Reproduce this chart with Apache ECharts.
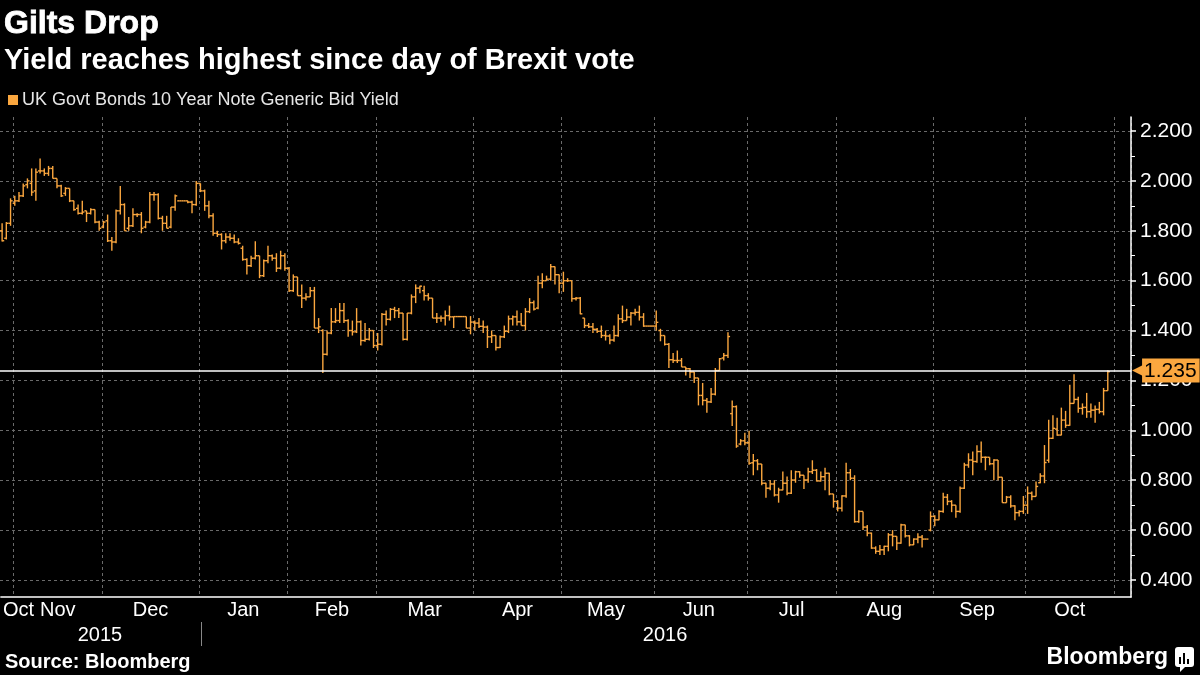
<!DOCTYPE html>
<html>
<head>
<meta charset="utf-8">
<script src="https://cdn.jsdelivr.net/npm/echarts@6/dist/echarts.min.js"></script>
<style>
html,body{margin:0;padding:0;background:#000;}
#chart{width:1200px;height:675px;}
</style>
</head>
<body>
<div id="chart"></div>
<script>
// ---------------- DATA ----------------
const seriesName = 'UK Govt Bonds 10 Year Note Generic Bid Yield';
const firstDay = '2015-10-28';     // first weekday shown on the axis
const axisSlots = 268;             // weekdays on the axis (data + empty room at the end)
const monthNames = ['Jan','Feb','Mar','Apr','May','Jun','Jul','Aug','Sep','Oct','Nov','Dec'];

const open = [
1.80,1.77,1.83,1.91,1.92,1.94,1.985,1.99,1.96,2.04,
2.04,2.03,2.05,2.01,1.98,1.95,1.97,1.92,1.89,1.87,
1.88,1.87,1.885,1.835,1.815,1.84,1.76,1.755,1.88,1.905,
1.81,1.82,1.865,1.865,1.815,1.835,1.945,1.945,1.85,1.83,
1.815,1.895,1.92,1.92,1.92,1.915,1.905,1.99,1.96,1.90,
1.86,1.79,1.785,1.76,1.775,1.77,1.755,1.73,1.685,1.66,
1.69,1.70,1.62,1.68,1.70,1.69,1.65,1.70,1.65,1.56,
1.615,1.54,1.53,1.535,1.56,1.41,1.40,1.305,1.39,1.435,
1.44,1.48,1.44,1.40,1.395,1.435,1.36,1.365,1.40,1.34,
1.345,1.465,1.445,1.485,1.48,1.47,1.365,1.47,1.535,1.57,
1.56,1.54,1.53,1.45,1.45,1.45,1.46,1.455,1.456,1.456,
1.456,1.41,1.434,1.43,1.417,1.414,1.375,1.38,1.332,1.375,
1.397,1.447,1.455,1.435,1.42,1.476,1.512,1.49,1.59,1.60,
1.606,1.656,1.624,1.59,1.60,1.60,1.528,1.53,1.45,1.42,
1.415,1.405,1.397,1.38,1.378,1.362,1.38,1.447,1.44,1.454,
1.47,1.473,1.454,1.418,1.418,1.418,1.40,1.38,1.345,1.283,
1.28,1.28,1.254,1.247,1.234,1.21,1.14,1.12,1.114,1.145,
1.24,1.29,1.30,1.067,1.095,0.945,0.958,0.95,0.87,0.878,
0.865,0.788,0.768,0.785,0.741,0.761,0.788,0.748,0.801,0.834,
0.82,0.801,0.834,0.84,0.797,0.814,0.828,0.745,0.715,0.688,
0.737,0.83,0.808,0.634,0.675,0.612,0.588,0.528,0.515,0.521,
0.535,0.581,0.575,0.548,0.621,0.577,0.541,0.564,0.572,0.564,
0.60,0.655,0.641,0.675,0.732,0.715,0.70,0.675,0.768,0.861,
0.881,0.875,0.915,0.892,0.892,0.866,0.881,0.812,0.71,0.732,
0.697,0.67,0.675,0.70,0.748,0.735,0.79,0.817,0.88,0.968,
1.005,0.981,1.041,1.02,1.108,1.124,1.088,1.092,1.075,1.081,
1.084,1.075,1.159
];
const high = [
1.83,1.835,1.93,1.94,1.955,1.99,2.01,2.05,2.05,2.09,
2.05,2.06,2.06,2.01,1.985,1.975,1.97,1.92,1.905,1.92,
1.88,1.89,1.885,1.84,1.84,1.865,1.775,1.885,1.98,1.91,
1.855,1.89,1.87,1.875,1.84,1.955,1.955,1.95,1.86,1.86,
1.895,1.945,1.92,1.92,1.92,1.92,2.00,1.99,1.965,1.92,
1.87,1.80,1.79,1.79,1.79,1.785,1.77,1.74,1.69,1.70,
1.758,1.70,1.685,1.74,1.705,1.71,1.72,1.71,1.655,1.625,
1.615,1.585,1.55,1.575,1.575,1.45,1.405,1.40,1.49,1.49,
1.51,1.51,1.445,1.44,1.49,1.44,1.43,1.41,1.40,1.39,
1.47,1.48,1.49,1.495,1.49,1.47,1.47,1.545,1.585,1.58,
1.58,1.55,1.53,1.47,1.46,1.48,1.50,1.456,1.456,1.456,
1.456,1.458,1.44,1.45,1.44,1.42,1.40,1.38,1.38,1.42,
1.46,1.46,1.48,1.47,1.49,1.53,1.52,1.62,1.63,1.62,
1.667,1.657,1.625,1.636,1.61,1.60,1.535,1.535,1.45,1.43,
1.43,1.41,1.42,1.40,1.385,1.42,1.465,1.50,1.487,1.474,
1.487,1.50,1.47,1.418,1.418,1.48,1.407,1.38,1.35,1.31,
1.32,1.29,1.254,1.25,1.234,1.21,1.19,1.13,1.17,1.25,
1.29,1.31,1.393,1.12,1.10,0.965,0.99,0.998,0.905,0.885,
0.865,0.79,0.80,0.80,0.77,0.835,0.815,0.84,0.838,0.836,
0.82,0.85,0.88,0.845,0.835,0.85,0.83,0.745,0.72,0.74,
0.87,0.845,0.82,0.68,0.675,0.62,0.59,0.535,0.54,0.537,
0.588,0.60,0.575,0.626,0.621,0.58,0.567,0.587,0.58,0.564,
0.675,0.66,0.68,0.75,0.745,0.72,0.70,0.775,0.87,0.908,
0.915,0.94,0.955,0.895,0.892,0.884,0.881,0.812,0.737,0.74,
0.70,0.68,0.737,0.775,0.755,0.795,0.828,0.941,1.042,1.06,
1.05,1.091,1.078,1.183,1.225,1.135,1.108,1.15,1.108,1.10,
1.114,1.17,1.241
];
const low = [
1.757,1.765,1.82,1.90,1.915,1.935,1.97,1.94,1.92,2.03,
2.02,2.02,2.01,1.97,1.935,1.94,1.915,1.88,1.865,1.865,
1.835,1.865,1.83,1.80,1.81,1.755,1.72,1.75,1.865,1.80,
1.80,1.815,1.855,1.79,1.81,1.83,1.92,1.845,1.80,1.81,
1.81,1.88,1.92,1.92,1.91,1.87,1.90,1.955,1.88,1.85,
1.78,1.775,1.725,1.75,1.76,1.75,1.745,1.68,1.625,1.655,
1.685,1.61,1.615,1.67,1.68,1.635,1.645,1.64,1.555,1.555,
1.54,1.49,1.52,1.535,1.41,1.39,1.23,1.30,1.385,1.43,
1.43,1.43,1.375,1.38,1.39,1.34,1.355,1.36,1.33,1.32,
1.34,1.42,1.44,1.45,1.45,1.36,1.36,1.465,1.51,1.55,
1.52,1.52,1.45,1.43,1.435,1.42,1.44,1.41,1.456,1.456,
1.41,1.385,1.40,1.41,1.39,1.33,1.35,1.32,1.33,1.37,
1.39,1.42,1.42,1.42,1.40,1.47,1.48,1.485,1.57,1.60,
1.60,1.585,1.55,1.555,1.595,1.515,1.52,1.465,1.41,1.41,
1.39,1.39,1.37,1.36,1.345,1.355,1.375,1.43,1.44,1.42,
1.46,1.44,1.415,1.418,1.418,1.40,1.357,1.34,1.25,1.27,
1.27,1.254,1.22,1.21,1.19,1.10,1.10,1.07,1.11,1.14,
1.24,1.28,1.29,1.017,0.93,0.94,0.94,0.862,0.82,0.84,
0.78,0.73,0.76,0.735,0.71,0.76,0.74,0.745,0.79,0.81,
0.765,0.79,0.825,0.795,0.795,0.76,0.74,0.69,0.675,0.675,
0.73,0.80,0.63,0.63,0.60,0.575,0.525,0.505,0.50,0.50,
0.515,0.535,0.52,0.545,0.57,0.535,0.54,0.547,0.53,0.564,
0.595,0.615,0.64,0.67,0.70,0.672,0.65,0.67,0.765,0.85,
0.82,0.87,0.87,0.84,0.86,0.80,0.80,0.71,0.71,0.69,
0.64,0.655,0.665,0.665,0.72,0.735,0.788,0.788,0.87,0.965,
0.978,0.98,1.01,1.018,1.108,1.07,1.063,1.05,1.05,1.03,
1.067,1.06,1.159
];
const close = [
1.76,1.83,1.92,1.92,1.94,1.98,2.00,1.955,2.035,2.04,
2.03,2.05,2.01,1.98,1.94,1.97,1.92,1.885,1.87,1.875,
1.87,1.885,1.835,1.81,1.835,1.76,1.755,1.88,1.905,1.80,
1.82,1.865,1.865,1.81,1.835,1.945,1.945,1.85,1.83,1.81,
1.895,1.94,1.92,1.92,1.915,1.905,1.99,1.96,1.90,1.86,
1.79,1.785,1.76,1.775,1.77,1.755,1.75,1.685,1.66,1.69,
1.70,1.62,1.68,1.70,1.69,1.65,1.70,1.65,1.56,1.615,
1.54,1.53,1.535,1.56,1.41,1.415,1.305,1.39,1.435,1.44,
1.48,1.44,1.40,1.395,1.435,1.36,1.365,1.40,1.34,1.345,
1.465,1.445,1.485,1.48,1.47,1.365,1.47,1.535,1.57,1.578,
1.54,1.53,1.45,1.45,1.45,1.46,1.455,1.456,1.456,1.456,
1.41,1.434,1.43,1.417,1.414,1.375,1.38,1.332,1.375,1.397,
1.447,1.455,1.435,1.42,1.476,1.512,1.486,1.59,1.60,1.606,
1.656,1.624,1.59,1.60,1.60,1.528,1.53,1.467,1.42,1.415,
1.405,1.397,1.38,1.378,1.362,1.38,1.447,1.44,1.454,1.47,
1.473,1.454,1.418,1.418,1.418,1.433,1.38,1.345,1.283,1.28,
1.28,1.254,1.247,1.234,1.21,1.14,1.12,1.114,1.145,1.24,
1.287,1.30,1.376,1.095,0.937,0.958,0.95,0.868,0.878,0.865,
0.788,0.768,0.785,0.741,0.761,0.788,0.748,0.801,0.834,0.82,
0.801,0.834,0.84,0.797,0.814,0.828,0.745,0.715,0.688,0.737,
0.83,0.808,0.634,0.675,0.612,0.588,0.528,0.515,0.521,0.535,
0.581,0.575,0.548,0.621,0.577,0.541,0.564,0.572,0.564,0.564,
0.655,0.641,0.675,0.732,0.715,0.70,0.675,0.768,0.861,0.881,
0.875,0.915,0.892,0.892,0.866,0.881,0.812,0.71,0.732,0.697,
0.67,0.675,0.70,0.748,0.735,0.775,0.817,0.871,0.968,1.008,
0.981,1.041,1.02,1.108,1.124,1.088,1.092,1.075,1.081,1.084,
1.075,1.159,1.235
];
const yMin = 0.4, yMax = 2.2, yStep = 0.2;

// ---------------- AXIS CATEGORIES (weekdays) ----------------
const categories = [];
(function () {
  const d = new Date(firstDay + 'T00:00:00Z');
  while (categories.length < axisSlots) {
    const wd = d.getUTCDay();
    if (wd !== 0 && wd !== 6) categories.push(d.toISOString().slice(0, 10));
    d.setUTCDate(d.getUTCDate() + 1);
  }
})();

function runs(keyLen) {
  const out = [];
  categories.forEach((c, i) => {
    const k = c.slice(0, keyLen);
    if (!out.length || out[out.length - 1].key !== k) out.push({ key: k, s: i, e: i });
    else out[out.length - 1].e = i;
  });
  return out;
}
const monthRuns = runs(7);
const yearRuns = runs(4);
const lastDataIdx = close.length - 1;
const monthStart = new Set(monthRuns.slice(1).map(r => r.s));
const monthLabelIdx = new Set();
monthRuns.forEach((r, k) => {
  if (r.s > lastDataIdx) return;
  monthLabelIdx.add(k === 0 ? 0 : Math.floor((r.s + r.e) / 2));
});
const yearStart = new Set(yearRuns.slice(1).map(r => r.s));
const yearLabelIdx = new Set(yearRuns.map(r => Math.floor((r.s + r.e) / 2)));

// ---------------- CHART ----------------
const ORANGE = '#FBA73F';
const FONT = "'Liberation Sans', Arial, sans-serif";
const lastClose = close[lastDataIdx];

const chart = echarts.init(document.getElementById('chart'), null, { renderer: 'canvas' });
chart.setOption({
  backgroundColor: '#000',
  animation: false,
  title: [
    { text: 'Gilts Drop', left: 4, top: 8, padding: 0,
      textStyle: { color: '#fff', fontSize: 32, fontWeight: 'bold', fontFamily: FONT,
        textBorderColor: '#fff', textBorderWidth: 0.8 } },
    { text: 'Yield reaches highest since day of Brexit vote', left: 4, top: 46, padding: 0,
      textStyle: { color: '#fff', fontSize: 29, fontWeight: 'bold', fontFamily: FONT } },
    { text: 'Source: Bloomberg', left: 5, top: 652, padding: 0,
      textStyle: { color: '#fff', fontSize: 20, fontWeight: 'bold', fontFamily: FONT } },
    { text: 'Bloomberg', right: 32, top: 646, padding: 0,
      textStyle: { color: '#fff', fontSize: 23, fontWeight: 'bold', fontFamily: FONT } }
  ],
  legend: {
    data: [seriesName], left: 8, top: 91, padding: 0, icon: 'rect',
    itemWidth: 10, itemHeight: 10, itemGap: 5, selectedMode: false,
    textStyle: { color: '#e6e6e6', fontSize: 18, fontFamily: FONT, padding: [0, 0, 0, -1] }
  },
  graphic: [
    { type: 'rect', left: 1175, top: 647, shape: { width: 19, height: 20, r: 3 }, style: { fill: '#fff' } },
    { type: 'polygon', shape: { points: [[1180, 666], [1186, 666], [1180, 672]] }, style: { fill: '#fff' } },
    { type: 'rect', left: 1179, top: 657, shape: { width: 2, height: 7 }, style: { fill: '#000' } },
    { type: 'rect', left: 1183, top: 653, shape: { width: 2, height: 11 }, style: { fill: '#000' } },
    { type: 'rect', left: 1187, top: 659, shape: { width: 2, height: 5 }, style: { fill: '#000' } }
  ],
  grid: [
    { left: 0, right: 69, top: 117, bottom: 78 },
    { left: 0, right: 69, top: 131, bottom: 95 }
  ],
  xAxis: [
    { // month axis + vertical grid (frame grid)
      gridIndex: 0, type: 'category', data: categories, boundaryGap: true,
      axisLine: { show: true, lineStyle: { color: '#fff', width: 1.5 } },
      axisTick: { show: false },
      axisLabel: {
        color: '#fff', fontSize: 20, fontFamily: FONT, margin: 3,
        interval: (i) => monthLabelIdx.has(i),
        formatter: (v) => monthNames[parseInt(v.slice(5, 7), 10) - 1],
        alignMinLabel: 'left', hideOverlap: false
      },
      splitLine: { show: true, interval: (i) => monthStart.has(i),
        lineStyle: { color: '#6a6a6a', width: 1, type: [3, 3] } }
    },
    { // data axis
      gridIndex: 1, type: 'category', data: categories, boundaryGap: true, show: false
    },
    { // year axis
      gridIndex: 0, type: 'category', data: categories, boundaryGap: true,
      position: 'bottom', offset: 25,
      axisLine: { show: false },
      axisTick: { show: true, alignWithLabel: true, interval: (i) => yearStart.has(i), length: 24,
        lineStyle: { color: '#888', width: 1 } },
      axisLabel: { color: '#fff', fontSize: 20, fontFamily: FONT, margin: 3,
        interval: (i) => yearLabelIdx.has(i), formatter: (v) => v.slice(0, 4), hideOverlap: false },
      splitLine: { show: false }
    }
  ],
  yAxis: [
    { gridIndex: 0, type: 'value', min: 0, max: 1, position: 'right',
      axisLine: { show: true, lineStyle: { color: '#fff', width: 1.5 } },
      axisTick: { show: false }, axisLabel: { show: false }, splitLine: { show: false } },
    { gridIndex: 1, type: 'value', min: yMin, max: yMax, interval: yStep, position: 'right',
      axisLine: { show: false },
      axisTick: { show: true, length: 5, lineStyle: { color: '#fff', width: 1.5 } },
      minorTick: { show: true, splitNumber: 2, length: 4, lineStyle: { color: '#fff', width: 1 } },
      axisLabel: { color: '#fff', fontSize: 21, fontFamily: FONT, margin: 9,
        formatter: (v) => v.toFixed(3) },
      splitLine: { show: true, lineStyle: { color: '#6a6a6a', width: 1, type: [3, 3] } } }
  ],
  series: [{
    type: 'custom', name: seriesName, xAxisIndex: 1, yAxisIndex: 1,
    itemStyle: { color: ORANGE },
    encode: { x: 0, y: [1, 2, 3, 4] },
    data: close.map((c, i) => [i, open[i], high[i], low[i], c]),
    renderItem: function (params, api) {
      const i = api.value(0);
      const pO = api.coord([i, api.value(1)]);
      const pH = api.coord([i, api.value(2)]);
      const pL = api.coord([i, api.value(3)]);
      const pC = api.coord([i, api.value(4)]);
      const t = api.size([1, 0])[0] * 0.5;
      const st = { stroke: ORANGE, lineWidth: 1.4, fill: null };
      return { type: 'group', children: [
        { type: 'line', shape: { x1: pH[0], y1: pH[1], x2: pL[0], y2: pL[1] }, style: st },
        { type: 'line', shape: { x1: pO[0] - t, y1: pO[1], x2: pO[0], y2: pO[1] }, style: st },
        { type: 'line', shape: { x1: pC[0], y1: pC[1], x2: pC[0] + t, y2: pC[1] }, style: st }
      ]};
    },
    markLine: {
      silent: true, symbol: ['none', 'none'], animation: false,
      lineStyle: { color: '#fff', width: 1.5, type: 'solid' },
      data: [{ yAxis: lastClose }],
      label: {
        show: true, position: 'end', distance: 1,
        formatter: () => '{a|◀}{b|' + lastClose.toFixed(3) + '}',
        rich: {
          a: { color: ORANGE, fontSize: 17, fontFamily: 'DejaVu Sans', padding: [0, -3, 0, 0] },
          b: { color: '#000', backgroundColor: ORANGE, fontSize: 21, fontFamily: FONT, padding: [2, 3, 1, 2] }
        }
      }
    }
  }]
});
</script>
</body>
</html>
